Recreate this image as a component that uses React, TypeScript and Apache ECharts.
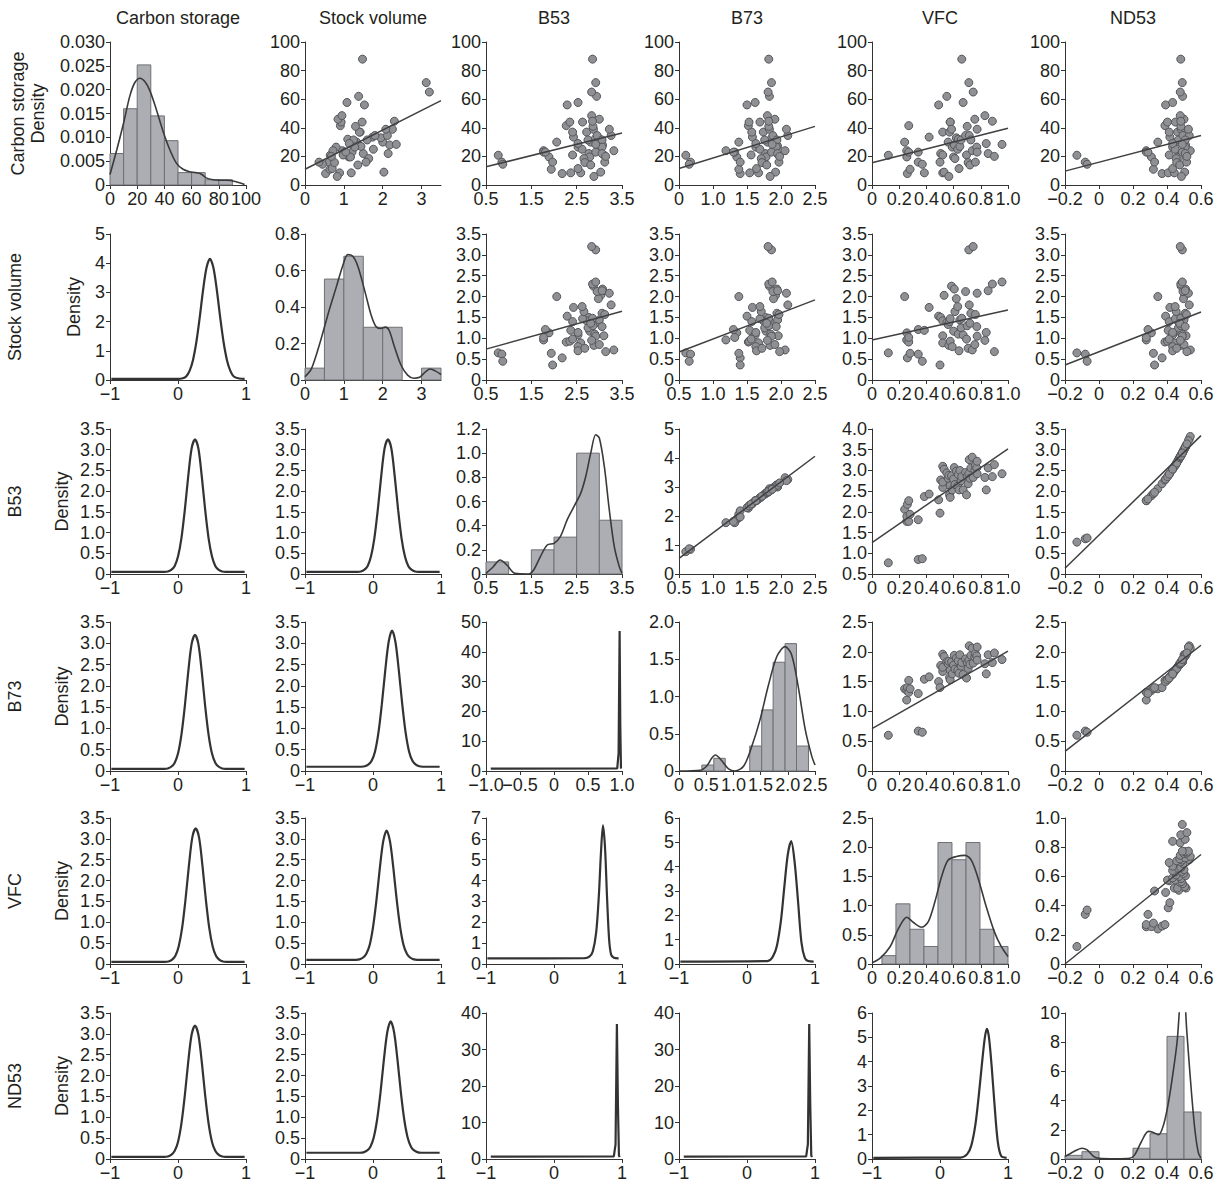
import React, { useEffect, useRef } from 'react';
import * as echarts from 'echarts';

// ---------------- Variables ----------------
const VARIABLES = ['Carbon storage', 'Stock volume', 'B53', 'B73', 'VFC', 'ND53'];

// ---------------- Samples ----------------
const carbon = [20.8, 30, 24, 19.6, 8, 41.5, 23, 11, 23, 16, 14.5, 8.5, 33.5, 56, 16, 22, 21, 8.5, 37, 9, 62, 30, 6, 37, 44, 44, 39, 26.5, 19.6, 28, 18.5, 33, 25, 32, 11.5, 27, 31.5, 88, 57.7, 34.6, 21, 41, 15.7, 71.6, 34.6, 14, 31.5, 24, 65, 46, 16, 26.5, 39, 23, 48.5, 29, 22, 44.6, 20, 28.4];
const stock = [0.65, 2.0, 0.96, 1.13, 0.53, 0.91, 1.02, 0.64, 1.21, 0.62, 0.45, 1.19, 1.74, 1.53, 0.36, 1.5, 1.06, 0.89, 1.42, 2.03, 1.38, 1.33, 0.83, 1.4, 0.93, 1.47, 2.25, 0.8, 1.17, 2.18, 1.64, 1.95, 1.76, 1.1, 0.7, 1.44, 1.25, 1.48, 1.08, 2.12, 0.98, 1.3, 0.76, 3.12, 1.8, 1.36, 1.6, 0.72, 3.2, 0.85, 1.57, 1.28, 2.08, 1.05, 0.95, 1.14, 2.14, 2.3, 0.68, 2.35];
const b53 = [0.77, 2.06, 1.77, 1.89, 2.18, 2.27, 1.77, 1.94, 1.81, 0.85, 0.87, 2.37, 2.43, 2.29, 1.97, 2.77, 3.10, 2.59, 2.72, 3.03, 2.94, 2.81, 2.88, 2.41, 2.35, 2.63, 2.87, 2.53, 2.79, 3.07, 2.66, 2.98, 2.62, 2.90, 2.53, 3.00, 2.75, 2.85, 2.53, 2.95, 2.41, 2.86, 2.68, 2.92, 3.26, 2.81, 3.06, 3.32, 2.83, 3.00, 3.12, 3.06, 3.22, 2.92, 2.83, 2.53, 3.06, 2.85, 3.14, 2.92];
const b73 = [0.60, 1.38, 1.19, 1.35, 1.40, 1.52, 1.32, 1.38, 1.30, 0.67, 0.65, 1.54, 1.58, 1.50, 1.40, 1.77, 1.96, 1.67, 1.74, 1.92, 1.83, 1.80, 1.84, 1.57, 1.53, 1.69, 1.83, 1.63, 1.78, 1.94, 1.71, 1.89, 1.69, 1.85, 1.64, 1.95, 1.76, 1.82, 1.62, 1.88, 1.56, 1.82, 1.72, 1.86, 2.10, 1.79, 1.94, 2.06, 1.81, 1.91, 1.97, 1.93, 2.08, 1.86, 1.80, 1.63, 1.95, 1.82, 1.98, 1.87];
const vfc = [0.12, 0.24, 0.255, 0.256, 0.26, 0.27, 0.27, 0.28, 0.34, 0.34, 0.37, 0.385, 0.42, 0.49, 0.50, 0.505, 0.52, 0.52, 0.52, 0.53, 0.55, 0.56, 0.565, 0.57, 0.575, 0.575, 0.585, 0.59, 0.60, 0.605, 0.61, 0.62, 0.63, 0.634, 0.64, 0.646, 0.655, 0.66, 0.67, 0.688, 0.695, 0.70, 0.707, 0.712, 0.715, 0.72, 0.727, 0.737, 0.744, 0.756, 0.76, 0.77, 0.773, 0.773, 0.83, 0.84, 0.854, 0.885, 0.90, 0.956];
const nd53 = [-0.130, 0.346, 0.278, 0.308, 0.371, 0.388, 0.278, 0.320, 0.288, -0.081, -0.070, 0.407, 0.417, 0.392, 0.327, 0.469, 0.512, 0.443, 0.462, 0.504, 0.492, 0.475, 0.485, 0.413, 0.403, 0.449, 0.483, 0.433, 0.472, 0.509, 0.454, 0.497, 0.448, 0.487, 0.433, 0.500, 0.467, 0.481, 0.433, 0.494, 0.413, 0.482, 0.457, 0.490, 0.531, 0.475, 0.507, 0.537, 0.478, 0.500, 0.515, 0.507, 0.526, 0.490, 0.478, 0.433, 0.507, 0.481, 0.517, 0.490];

// ---------------- Regression lines (end points) ----------------
const fitCarbonStock = [[0, 11], [3.5, 59]];
const fitCarbonB53 = [[0.5, 12.7], [3.5, 36.3]];
const fitCarbonB73 = [[0.5, 11.5], [2.5, 41]];
const fitCarbonVFC = [[0, 15.5], [1, 39.7]];
const fitCarbonND53 = [[-0.2, 9.7], [0.6, 34.6]];
const fitStockB53 = [[0.5, 0.74], [3.5, 1.65]];
const fitStockB73 = [[0.5, 0.67], [2.5, 1.92]];
const fitStockVFC = [[0, 0.96], [1, 1.68]];
const fitStockND53 = [[-0.2, 0.36], [0.6, 1.63]];
const fitB53B73 = [[0.5, 0.54], [2.5, 4.06]];
const fitB53VFC = [[0, 1.26], [1, 3.52]];
const fitB53ND53 = [[-0.2, 0.14], [0.6, 3.34]];
const fitB73VFC = [[0, 0.71], [1, 2.01]];
const fitB73ND53 = [[-0.2, 0.33], [0.6, 2.11]];
const fitVFCND53 = [[-0.2, 0], [0.6, 0.75]];

// ---------------- Diagonal histograms ----------------
const histCarbonEdges = [0, 10, 20, 30, 40, 50, 60, 70, 80, 90];
const histCarbonHeights = [0.0066, 0.016, 0.0252, 0.0145, 0.0093, 0.0026, 0.0026, 0.0011, 0.0011];
const histStockEdges = [0, 0.5, 1, 1.5, 2, 2.5, 3, 3.5];
const histStockHeights = [0.065, 0.553, 0.678, 0.289, 0.289, 0, 0.065];
const histB53Edges = [0.5, 1, 1.5, 2, 2.5, 3, 3.5];
const histB53Heights = [0.1, 0, 0.2, 0.305, 1.0, 0.445];
const histB73Edges = [0.42, 0.64, 0.85, 1.07, 1.3, 1.52, 1.73, 1.95, 2.16, 2.38];
const histB73Heights = [0.08, 0.17, 0, 0, 0.335, 0.82, 1.46, 1.71, 0.335];
const histVFCEdges = [0.073, 0.176, 0.279, 0.382, 0.485, 0.588, 0.691, 0.794, 0.897, 1.0];
const histVFCHeights = [0.143, 1.03, 0.595, 0.3, 2.08, 1.785, 2.08, 0.595, 0.3];
const histND53Edges = [-0.2, -0.1, 0, 0.1, 0.2, 0.3, 0.4, 0.5, 0.6];
const histND53Heights = [0.25, 0.5, 0, 0, 0.74, 1.73, 8.4, 3.22];

// ---------------- Diagonal density curves ----------------
const kdeCarbon = [[0, 0.0022], [5, 0.0074], [10, 0.013], [14.6, 0.0187], [18.3, 0.0215], [22, 0.0224], [25.6, 0.0217], [29.3, 0.0198], [34, 0.0159], [39, 0.0113], [44, 0.0074], [48.8, 0.0046], [53.7, 0.0033], [58.5, 0.0028], [63, 0.0026], [67, 0.0023], [70.7, 0.0015], [75.6, 0.0011], [80.5, 0.001], [86, 0.001], [92.7, 0.0007], [99, 0.0001]];
const kdeStock = [[0, 0.018], [0.17, 0.064], [0.38, 0.2], [0.6, 0.366], [0.81, 0.513], [0.98, 0.632], [1.1, 0.687], [1.23, 0.678], [1.36, 0.623], [1.53, 0.495], [1.7, 0.357], [1.82, 0.295], [1.95, 0.282], [2.07, 0.29], [2.17, 0.27], [2.3, 0.183], [2.47, 0.082], [2.64, 0.027], [2.8, 0.01], [2.95, 0.015], [3.1, 0.045], [3.22, 0.06], [3.35, 0.05], [3.5, 0.03]];
const kdeB53 = [[0.5, 0.005], [0.66, 0.06], [0.81, 0.116], [0.96, 0.075], [1.14, 0.005], [1.44, 0], [1.55, 0.033], [1.7, 0.144], [1.85, 0.24], [2.0, 0.254], [2.14, 0.31], [2.29, 0.448], [2.44, 0.558], [2.59, 0.669], [2.7, 0.807], [2.81, 1.0], [2.92, 1.153], [3.0, 1.125], [3.11, 0.89], [3.22, 0.53], [3.33, 0.227], [3.44, 0.061], [3.5, 0.005]];
const kdeB73 = [[0, 0], [0.39, 0.01], [0.51, 0.067], [0.6, 0.17], [0.67, 0.214], [0.79, 0.134], [0.91, 0.03], [1.03, 0], [1.19, 0.067], [1.34, 0.335], [1.49, 0.69], [1.64, 1.14], [1.8, 1.54], [1.95, 1.67], [2.07, 1.56], [2.19, 1.14], [2.32, 0.558], [2.44, 0.2], [2.5, 0.08]];
const kdeVFC = [[0, 0.02], [0.06, 0.1], [0.134, 0.3], [0.195, 0.61], [0.256, 0.8], [0.305, 0.71], [0.366, 0.63], [0.415, 0.73], [0.463, 1.07], [0.512, 1.5], [0.56, 1.78], [0.62, 1.84], [0.683, 1.86], [0.73, 1.78], [0.78, 1.47], [0.84, 0.98], [0.9, 0.55], [0.95, 0.3], [1.0, 0.126]];
const kdeND53 = [[-0.2, 0.16], [-0.15, 0.5], [-0.1, 0.74], [-0.07, 0.62], [-0.03, 0.16], [0, 0.05], [0.1, 0.02], [0.18, 0.05], [0.21, 0.28], [0.25, 1.2], [0.29, 1.89], [0.32, 1.82], [0.35, 1.66], [0.38, 2.35], [0.41, 3.96], [0.44, 6.27], [0.46, 8.1], [0.475, 10.5], [0.49, 12.5], [0.505, 11], [0.515, 9], [0.525, 7.4], [0.545, 4.4], [0.565, 1.9], [0.585, 0.4], [0.6, 0.05]];

// ---------------- Lower-triangle density curves ----------------
const densStockCarbon = [[-0.98, 0.04], [0, 0.04], [0.07, 0.06], [0.12, 0.12], [0.17, 0.31], [0.22, 0.68], [0.27, 1.3], [0.32, 2.15], [0.37, 3.1], [0.42, 3.85], [0.47, 4.15], [0.52, 3.85], [0.57, 3.1], [0.62, 2.15], [0.67, 1.3], [0.72, 0.68], [0.77, 0.31], [0.82, 0.12], [0.9, 0.05], [0.98, 0.04]];
const densB53Carbon = [[-0.98, 0.05], [-0.2, 0.05], [-0.15, 0.06], [-0.1, 0.1], [-0.05, 0.19], [0, 0.42], [0.05, 0.86], [0.1, 1.54], [0.15, 2.35], [0.2, 3.03], [0.25, 3.25], [0.3, 3.03], [0.35, 2.35], [0.4, 1.54], [0.45, 0.86], [0.5, 0.42], [0.55, 0.19], [0.6, 0.1], [0.65, 0.06], [0.7, 0.05], [0.98, 0.05]];
const densB53Stock = [[-0.98, 0.05], [-0.23, 0.05], [-0.18, 0.06], [-0.13, 0.1], [-0.08, 0.19], [-0.03, 0.42], [0.02, 0.86], [0.07, 1.54], [0.12, 2.35], [0.17, 3.03], [0.22, 3.25], [0.27, 3.03], [0.32, 2.35], [0.37, 1.54], [0.42, 0.86], [0.47, 0.42], [0.52, 0.19], [0.57, 0.1], [0.62, 0.06], [0.67, 0.05], [0.98, 0.05]];
const densB73Carbon = [[-0.98, 0.05], [-0.2, 0.05], [-0.15, 0.06], [-0.1, 0.1], [-0.05, 0.19], [0, 0.41], [0.05, 0.85], [0.1, 1.52], [0.15, 2.32], [0.2, 2.98], [0.25, 3.2], [0.3, 2.98], [0.35, 2.32], [0.4, 1.52], [0.45, 0.85], [0.5, 0.41], [0.55, 0.19], [0.6, 0.1], [0.65, 0.06], [0.7, 0.05], [0.98, 0.05]];
const densB73Stock = [[-0.98, 0.1], [-0.17, 0.1], [-0.12, 0.11], [-0.07, 0.15], [-0.02, 0.24], [0.03, 0.46], [0.08, 0.9], [0.13, 1.57], [0.18, 2.36], [0.23, 3.03], [0.28, 3.3], [0.33, 3.03], [0.38, 2.36], [0.43, 1.57], [0.48, 0.9], [0.53, 0.46], [0.58, 0.24], [0.63, 0.15], [0.68, 0.11], [0.73, 0.1], [0.98, 0.1]];
const densB73B53 = [[-0.93, 0.8], [0.93, 0.9], [0.95, 6], [0.965, 47], [0.975, 15], [0.985, 0.8]];
const densVFCCarbon = [[-0.98, 0.05], [-0.19, 0.05], [-0.14, 0.06], [-0.09, 0.1], [-0.04, 0.19], [0.01, 0.42], [0.06, 0.86], [0.11, 1.54], [0.16, 2.35], [0.21, 3.03], [0.26, 3.25], [0.31, 3.03], [0.36, 2.35], [0.41, 1.54], [0.46, 0.86], [0.51, 0.42], [0.56, 0.19], [0.61, 0.1], [0.66, 0.06], [0.71, 0.05], [0.98, 0.05]];
const densVFCStock = [[-0.98, 0.1], [-0.25, 0.1], [-0.2, 0.11], [-0.15, 0.15], [-0.1, 0.24], [-0.05, 0.45], [0, 0.88], [0.05, 1.52], [0.1, 2.29], [0.15, 2.94], [0.2, 3.2], [0.25, 2.94], [0.3, 2.29], [0.35, 1.52], [0.4, 0.88], [0.45, 0.45], [0.5, 0.24], [0.55, 0.15], [0.6, 0.11], [0.65, 0.1], [0.98, 0.1]];
const densVFCB53 = [[-0.98, 0.27], [0.45, 0.28], [0.52, 0.35], [0.57, 0.6], [0.62, 1.5], [0.66, 3.3], [0.69, 5.3], [0.72, 6.65], [0.75, 5.6], [0.78, 3.2], [0.81, 1.2], [0.84, 0.45], [0.88, 0.3], [0.95, 0.27]];
const densVFCB73 = [[-0.98, 0.1], [0.3, 0.12], [0.38, 0.3], [0.44, 0.75], [0.5, 1.8], [0.55, 3.2], [0.6, 4.5], [0.65, 5.05], [0.7, 4.2], [0.75, 2.6], [0.8, 0.9], [0.85, 0.25], [0.9, 0.12], [0.98, 0.1]];
const densND53Carbon = [[-0.98, 0.05], [-0.2, 0.05], [-0.15, 0.06], [-0.1, 0.1], [-0.05, 0.19], [0, 0.41], [0.05, 0.85], [0.1, 1.52], [0.15, 2.32], [0.2, 2.98], [0.25, 3.2], [0.3, 2.98], [0.35, 2.32], [0.4, 1.52], [0.45, 0.85], [0.5, 0.41], [0.55, 0.19], [0.6, 0.1], [0.65, 0.06], [0.7, 0.05], [0.98, 0.05]];
const densND53Stock = [[-0.98, 0.15], [-0.19, 0.15], [-0.14, 0.16], [-0.09, 0.2], [-0.04, 0.29], [0.01, 0.51], [0.06, 0.94], [0.11, 1.59], [0.16, 2.38], [0.21, 3.04], [0.26, 3.3], [0.31, 3.04], [0.36, 2.38], [0.41, 1.59], [0.46, 0.94], [0.51, 0.51], [0.56, 0.29], [0.61, 0.2], [0.66, 0.16], [0.71, 0.15], [0.98, 0.15]];
const densND53B53 = [[-0.93, 0.65], [0.88, 0.7], [0.905, 4], [0.925, 37], [0.94, 15], [0.955, 1], [0.965, 0.5]];
const densND53B73 = [[-0.93, 0.65], [0.87, 0.7], [0.895, 4], [0.915, 37], [0.93, 15], [0.945, 1], [0.955, 0.5]];
const densND53VFC = [[-0.98, 0.05], [0.3, 0.06], [0.4, 0.2], [0.46, 0.55], [0.52, 1.4], [0.57, 2.6], [0.62, 4.0], [0.66, 5.0], [0.69, 5.35], [0.72, 5.0], [0.76, 3.8], [0.8, 2.3], [0.85, 0.7], [0.9, 0.12], [0.98, 0.05]];

// ---------------- Tick values ----------------
const xTicksCarbon = [0, 20, 40, 60, 80, 100];
const xTicksStock = [0, 1, 2, 3];
const xTicksB53 = [0.5, 1.5, 2.5, 3.5];
const xTicksB73 = [0.5, 1, 1.5, 2, 2.5];
const xTicksB73Hist = [0, 0.5, 1, 1.5, 2, 2.5];
const xTicksVFC = [0, 0.2, 0.4, 0.6, 0.8, 1];
const xTicksND53 = [-0.2, 0, 0.2, 0.4, 0.6];
const xTicksR = [-1, 0, 1];
const xTicksRHalf = [-1, -0.5, 0, 0.5, 1];
// same labels as xTicksRHalf, listed so that ECharts does not drop the crowded "−0.5"
const xLabelsRHalf = [0, -1, -0.5, 0.5, 1];
const yTicks100 = [0, 20, 40, 60, 80, 100];
const yTicks35 = [0, 0.5, 1, 1.5, 2, 2.5, 3, 3.5];
const yTicks5 = [0, 1, 2, 3, 4, 5];
const yTicks05to4 = [0.5, 1, 1.5, 2, 2.5, 3, 3.5, 4];
const yTicks25 = [0, 0.5, 1, 1.5, 2, 2.5];
const yTicks1 = [0, 0.2, 0.4, 0.6, 0.8, 1];
const yTicksCarbonDens = [0, 0.005, 0.01, 0.015, 0.02, 0.025, 0.03];
const yTicksStockDens = [0, 0.2, 0.4, 0.6, 0.8];
const yTicksB53Dens = [0, 0.2, 0.4, 0.6, 0.8, 1, 1.2];
const yTicksB73Dens = [0, 0.5, 1, 1.5, 2];
const yTicksND53Dens = [0, 2, 4, 6, 8, 10];
const yTicks50 = [0, 10, 20, 30, 40, 50];
const yTicks7 = [0, 1, 2, 3, 4, 5, 6, 7];
const yTicks6 = [0, 1, 2, 3, 4, 5, 6];
const yTicks40 = [0, 10, 20, 30, 40];

// ---------------- Layout ----------------
const FONT = "'Liberation Sans', Arial, Helvetica, sans-serif";
const AXIS_COLOR = '#333333';
const TEXT_COLOR = '#231f20';
const colLeft = [110, 305, 486, 679, 872, 1065];
const colWidth = 136;
const rowTop = [42, 234, 429, 622, 818, 1013];
const rowBottom = [185, 380, 574, 771, 964, 1159];
const rowNameX = [18, 15, 15, 15, 15, 15];
const rowDensityX = [38, 74, 62, 62, 62, 62];

type AxisSpec = { min: number; max: number; ticks: number[]; labels?: number[]; dec: number; override?: Record<string, string> };

function fmt(v: number, dec: number): string {
  if (Math.abs(v) < 1e-9) return '0';
  const s = Math.abs(v).toFixed(dec);
  return (v < 0 ? '\u2212' : '') + s;
}

function xSpec(r: number, c: number): AxisSpec {
  if (r > c) {
    if (r === 3 && c === 2) return { min: -1, max: 1, ticks: xTicksRHalf, labels: xLabelsRHalf, dec: 1 };
    return { min: -1, max: 1, ticks: xTicksR, dec: 0 };
  }
  switch (c) {
    case 0: return { min: 0, max: 100, ticks: xTicksCarbon, dec: 0 };
    case 1: return { min: 0, max: 3.5, ticks: xTicksStock, dec: 0 };
    case 2: return { min: 0.5, max: 3.5, ticks: xTicksB53, dec: 1 };
    case 3:
      if (r === 3) return { min: 0, max: 2.5, ticks: xTicksB73Hist, dec: 1 };
      return { min: 0.5, max: 2.5, ticks: xTicksB73, dec: 1, override: r === 0 ? { '0.5': '0' } : undefined };
    case 4: return { min: 0, max: 1, ticks: xTicksVFC, dec: 1 };
    default: return { min: -0.2, max: 0.6, ticks: xTicksND53, dec: 1 };
  }
}

const yMatrix: [number[], number][][] = [
  [[yTicksCarbonDens, 3], [yTicks100, 0], [yTicks100, 0], [yTicks100, 0], [yTicks100, 0], [yTicks100, 0]],
  [[yTicks5, 0], [yTicksStockDens, 1], [yTicks35, 1], [yTicks35, 1], [yTicks35, 1], [yTicks35, 1]],
  [[yTicks35, 1], [yTicks35, 1], [yTicksB53Dens, 1], [yTicks5, 0], [yTicks05to4, 1], [yTicks35, 1]],
  [[yTicks35, 1], [yTicks35, 1], [yTicks50, 0], [yTicksB73Dens, 1], [yTicks25, 1], [yTicks25, 1]],
  [[yTicks35, 1], [yTicks35, 1], [yTicks7, 0], [yTicks6, 0], [yTicks25, 1], [yTicks1, 1]],
  [[yTicks35, 1], [yTicks35, 1], [yTicks40, 0], [yTicks40, 0], [yTicks6, 0], [yTicksND53Dens, 0]],
];

function ySpec(r: number, c: number): AxisSpec {
  const [ticks, dec] = yMatrix[r][c];
  return { min: ticks[0], max: ticks[ticks.length - 1], ticks, dec };
}

function makeAxis(pos: 'x' | 'y', k: number, spec: AxisSpec) {
  return {
    type: 'value',
    gridIndex: k,
    min: spec.min,
    max: spec.max,
    position: pos === 'x' ? 'bottom' : 'left',
    axisLine: { show: true, onZero: false, lineStyle: { color: AXIS_COLOR, width: 1 } },
    axisTick: { show: true, inside: false, length: 4, customValues: spec.ticks, lineStyle: { color: AXIS_COLOR, width: 1 } },
    axisLabel: {
      show: true,
      customValues: spec.labels || spec.ticks,
      showMinLabel: true,
      showMaxLabel: true,
      hideOverlap: false,
      margin: 5,
      fontSize: 18,
      fontFamily: FONT,
      color: TEXT_COLOR,
      formatter: (v: number) => {
        const key = String(Math.round(v * 1000) / 1000);
        if (spec.override && spec.override[key] !== undefined) return spec.override[key];
        return fmt(v, spec.dec);
      },
    },
    splitLine: { show: false },
  };
}

const samples = [carbon, stock, b53, b73, vfc, nd53];
const fits: Record<string, number[][]> = {
  '0-1': fitCarbonStock, '0-2': fitCarbonB53, '0-3': fitCarbonB73, '0-4': fitCarbonVFC, '0-5': fitCarbonND53,
  '1-2': fitStockB53, '1-3': fitStockB73, '1-4': fitStockVFC, '1-5': fitStockND53,
  '2-3': fitB53B73, '2-4': fitB53VFC, '2-5': fitB53ND53,
  '3-4': fitB73VFC, '3-5': fitB73ND53,
  '4-5': fitVFCND53,
};
const hists: [number[], number[]][] = [
  [histCarbonEdges, histCarbonHeights], [histStockEdges, histStockHeights], [histB53Edges, histB53Heights],
  [histB73Edges, histB73Heights], [histVFCEdges, histVFCHeights], [histND53Edges, histND53Heights],
];
const kdes = [kdeCarbon, kdeStock, kdeB53, kdeB73, kdeVFC, kdeND53];
const dens: Record<string, number[][]> = {
  '1-0': densStockCarbon,
  '2-0': densB53Carbon, '2-1': densB53Stock,
  '3-0': densB73Carbon, '3-1': densB73Stock, '3-2': densB73B53,
  '4-0': densVFCCarbon, '4-1': densVFCStock, '4-2': densVFCB53, '4-3': densVFCB73,
  '5-0': densND53Carbon, '5-1': densND53Stock, '5-2': densND53B53, '5-3': densND53B73, '5-4': densND53VFC,
};
const spikePanels = ['3-2', '5-2', '5-3'];

function buildOption() {
  const grid: any[] = [];
  const xAxis: any[] = [];
  const yAxis: any[] = [];
  const series: any[] = [];
  const graphic: any[] = [];

  for (let r = 0; r < 6; r++) {
    for (let c = 0; c < 6; c++) {
      const k = r * 6 + c;
      grid.push({ left: colLeft[c], top: rowTop[r], width: colWidth, height: rowBottom[r] - rowTop[r], containLabel: false, outerBoundsMode: 'none' });
      xAxis.push(makeAxis('x', k, xSpec(r, c)));
      yAxis.push(makeAxis('y', k, ySpec(r, c)));
      const key = `${r}-${c}`;
      if (r === c) {
        const [edges, heights] = hists[r];
        series.push({
          type: 'custom',
          xAxisIndex: k,
          yAxisIndex: k,
          silent: true,
          data: heights.map((h, i) => [edges[i], edges[i + 1], h]),
          encode: { x: [0, 1], y: 2 },
          renderItem: (params: any, api: any) => {
            const h = api.value(2);
            if (!(h > 0)) return null;
            const p0 = api.coord([api.value(0), h]);
            const p1 = api.coord([api.value(1), 0]);
            return {
              type: 'rect',
              shape: { x: p0[0], y: p0[1], width: p1[0] - p0[0], height: p1[1] - p0[1] },
              style: { fill: '#acaeb3', stroke: '#6f7074', lineWidth: 1 },
            };
          },
          z: 1,
        });
        series.push({
          type: 'line',
          xAxisIndex: k,
          yAxisIndex: k,
          data: kdes[r],
          showSymbol: false,
          symbol: 'none',
          smooth: 0.3,
          clip: true,
          silent: true,
          lineStyle: { color: '#3a3a3a', width: 1.6 },
          z: 3,
        });
      } else if (r < c) {
        const xs = samples[c];
        const ys = samples[r];
        series.push({
          type: 'scatter',
          xAxisIndex: k,
          yAxisIndex: k,
          silent: true,
          symbol: 'circle',
          symbolSize: 8,
          data: xs.map((v, i) => [v, ys[i]]),
          itemStyle: { color: '#8f9094', borderColor: '#55565a', borderWidth: 1, opacity: 1 },
          z: 2,
        });
        series.push({
          type: 'line',
          xAxisIndex: k,
          yAxisIndex: k,
          data: fits[key],
          showSymbol: false,
          symbol: 'none',
          silent: true,
          lineStyle: { color: '#404040', width: 1.5 },
          z: 3,
        });
      } else {
        const spike = spikePanels.indexOf(key) >= 0;
        series.push({
          type: 'line',
          xAxisIndex: k,
          yAxisIndex: k,
          data: dens[key],
          showSymbol: false,
          symbol: 'none',
          smooth: spike ? false : 0.3,
          clip: true,
          silent: true,
          lineStyle: { color: '#333333', width: 2.2 },
          z: 3,
        });
      }
    }
  }

  // column titles
  for (let c = 0; c < 6; c++) {
    graphic.push({
      type: 'text',
      x: colLeft[c] + colWidth / 2,
      y: 18,
      style: { text: VARIABLES[c], fontSize: 18, fontFamily: FONT, fill: TEXT_COLOR, align: 'center', verticalAlign: 'middle' },
    });
  }
  // row labels
  for (let r = 0; r < 6; r++) {
    const cy = (rowTop[r] + rowBottom[r]) / 2;
    graphic.push({
      type: 'text',
      x: rowNameX[r],
      y: cy,
      rotation: Math.PI / 2,
      style: { text: VARIABLES[r], fontSize: 18, fontFamily: FONT, fill: TEXT_COLOR, align: 'center', verticalAlign: 'middle' },
    });
    graphic.push({
      type: 'text',
      x: rowDensityX[r],
      y: cy,
      rotation: Math.PI / 2,
      style: { text: 'Density', fontSize: 18, fontFamily: FONT, fill: TEXT_COLOR, align: 'center', verticalAlign: 'middle' },
    });
  }

  return {
    animation: false,
    backgroundColor: '#ffffff',
    grid,
    xAxis,
    yAxis,
    series,
    graphic,
  };
}

export default function App() {
  const ref = useRef<HTMLDivElement>(null);
  useEffect(() => {
    if (!ref.current) return;
    const chart = echarts.init(ref.current, null, { renderer: 'svg' });
    chart.setOption(buildOption() as any);
    return () => {
      chart.dispose();
    };
  }, []);
  return (
    <div
      ref={ref}
      style={{ position: 'fixed', left: 0, top: 0, width: 1227, height: 1184, background: '#ffffff' }}
    />
  );
}
